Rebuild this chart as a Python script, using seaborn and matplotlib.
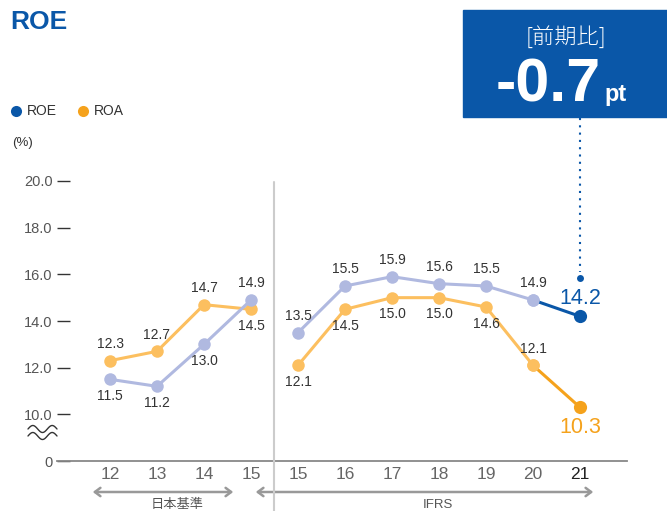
import numpy as np
import pandas as pd
import matplotlib
matplotlib.use("Agg")
import matplotlib.pyplot as plt
from matplotlib.lines import Line2D
from matplotlib.patches import Rectangle, FancyArrowPatch
import seaborn as sns

# ---- data ----
years = ["12", "13", "14", "15", "15", "16", "17", "18", "19", "20", "21"]
roe = [11.5, 11.2, 13.0, 14.9, 13.5, 15.5, 15.9, 15.6, 15.5, 14.9, 14.2]
roa = [12.3, 12.7, 14.7, 14.5, 12.1, 14.5, 15.0, 15.0, 14.6, 12.1, 10.3]
roe_pos = ["below", "below", "below", "above", "above", "above", "above", "above", "above", "above", "big"]
roa_pos = ["above", "above", "above", "below", "below", "below", "below", "below", "below", "above", "big"]
ytick_vals = [8, 10, 12, 14, 16, 18, 20]
ytick_labels = ["0", "10.0", "12.0", "14.0", "16.0", "18.0", "20.0"]
change_label = "-0.7"
change_unit = "pt"
section_labels = ["日本基準", "IFRS"]

sns.set_theme(style="white")
plt.rcParams['font.family'] = ['Liberation Sans', 'Noto Sans CJK JP', 'DejaVu Sans']

W, H = 667, 511
fig = plt.figure(figsize=(W / 100, H / 100), dpi=100)
def fx(px): return px / W
def fy(py): return 1 - py / H

LAV = "#b0b9e0"
BLUE = "#0a57a8"
LORA = "#fcbf5f"
ORA = "#f5a21c"
TXT = "#333333"

ax = fig.add_axes([fx(57), fy(461), fx(627) - fx(57), fy(181) - fy(461)])
idx = np.arange(len(years))
df = pd.DataFrame({"i": idx, "ROE": roe, "ROA": roa})

segs = [(0, 4), (4, 10)]
for col, light in (("ROA", LORA), ("ROE", LAV)):
    for a, b in segs:
        sub = df.iloc[a:b]
        sns.lineplot(data=sub, x="i", y=col, ax=ax, color=light, lw=2.2,
                     marker="o", markersize=9, markeredgewidth=0, legend=False, clip_on=False)
for col, light, dark in (("ROA", LORA, ORA), ("ROE", LAV, BLUE)):
    sub = df.iloc[9:11]
    sns.lineplot(data=sub, x="i", y=col, ax=ax, color=dark, lw=2.2, legend=False, clip_on=False)
    sns.scatterplot(data=df.iloc[9:10], x="i", y=col, ax=ax, color=light, s=80, linewidth=0, zorder=5, clip_on=False)
    sns.scatterplot(data=df.iloc[10:11], x="i", y=col, ax=ax, color=dark, s=90, linewidth=0, zorder=5, clip_on=False)

def label(vals, poss, bigcolor, bigoff):
    for i, (v, p) in enumerate(zip(vals, poss)):
        if p == "big":
            ax.annotate(f"{v:.1f}", (i, v), xytext=(0, bigoff), textcoords="offset points",
                        ha="center", va="center", fontsize=15.5, color=bigcolor)
        else:
            off = 12 if p == "above" else -12
            ax.annotate(f"{v:.1f}", (i, v), xytext=(0, off), textcoords="offset points",
                        ha="center", va="center", fontsize=10, color=TXT)
label(roe, roe_pos, BLUE, 12.5)
label(roa, roa_pos, ORA, -14.5)

ax.set_xlim((57 - 110) / 47, (627 - 110) / 47)
ax.set_ylim(8, 20)
ax.set_xticks(idx)
ax.set_xticklabels(years)
ax.set_yticks(ytick_vals)
ax.set_yticklabels(ytick_labels)
ax.set_xlabel("")
ax.set_ylabel("")
for s in ("top", "right", "left"):
    ax.spines[s].set_visible(False)
ax.spines["bottom"].set_color("#888888")
ax.spines["bottom"].set_linewidth(1.3)
ax.tick_params(axis="x", length=0, pad=4, labelsize=12.5, labelcolor="#666666")
ax.tick_params(axis="y", direction="in", length=9.5, width=1, color="#333333",
               pad=3, labelsize=10.5, labelcolor="#555555", left=True)
ax.get_xticklabels()[-1].set_color("#222222")
ax.patch.set_alpha(0)

# separator
fig.add_artist(Line2D([fx(274), fx(274)], [fy(182), fy(511)], color="#cccccc", lw=1.5))

# section arrows
for (x0, x1), lab, cx in zip(((90, 236), (253, 596)), section_labels, (177, 438)):
    fig.add_artist(FancyArrowPatch((fx(x0), fy(492)), (fx(x1), fy(492)), transform=fig.transFigure,
                                   arrowstyle="<->,head_length=4,head_width=3", color="#999999", lw=1.8))
    fig.text(fx(cx), fy(505), lab, ha="center", va="center", fontsize=9.5, color="#555555")

# wave break symbol
t = np.linspace(0, 1, 60)
for yoff in (429, 436):
    fig.add_artist(Line2D(fx(28 + 29 * t), fy(yoff + 3.5 * np.sin(2 * np.pi * t * 1.5 + np.pi)),
                          color="#333333", lw=1))

# title
fig.text(fx(10), fy(22), "ROE", ha="left", va="center", fontsize=19, fontweight="bold", color=BLUE)

# legend
for xm, lab, c in ((16, "ROE", BLUE), (83, "ROA", ORA)):
    fig.add_artist(Line2D([fx(xm)], [fy(111)], marker="o", markersize=8, color=c, markeredgewidth=0))
    fig.text(fx(xm + 11), fy(111), lab, ha="left", va="center", fontsize=10, color=TXT)
fig.text(fx(12), fy(143), "(%)", ha="left", va="center", fontsize=9.5, color=TXT)

# change box
fig.add_artist(Rectangle((fx(463), fy(117)), fx(667) - fx(463), fy(10) - fy(117),
                         transform=fig.transFigure, color=BLUE, zorder=1))
fig.text(fx(566), fy(37), "[前期比]", ha="center", va="center", fontsize=16, color="white",
         family=["Noto Sans CJK JP", "DejaVu Sans"], fontweight="light", zorder=2)
fig.text(fx(601), fy(101), change_label, ha="right", va="baseline", fontsize=44, fontweight="bold",
         color="white", zorder=2)
fig.text(fx(604), fy(101), change_unit, ha="left", va="baseline", fontsize=17, fontweight="bold",
         color="white", zorder=2)

# dotted connector
fig.add_artist(Line2D([fx(580), fx(580)], [fy(118), fy(272)], color=BLUE, lw=1.5, ls=(0, (1, 2.5))))
fig.add_artist(Line2D([fx(580)], [fy(278)], marker="o", markersize=5, color=BLUE, markeredgewidth=0))

fig.savefig("out.png", dpi=100)
